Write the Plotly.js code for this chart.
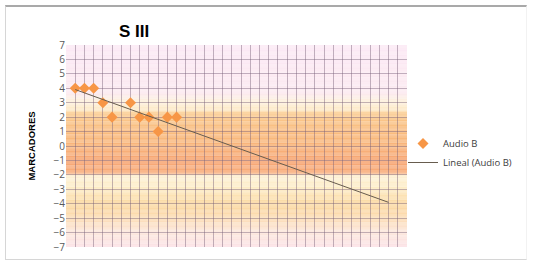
<!DOCTYPE html>
<html>
<head>
<meta charset="utf-8">
<script src="https://cdn.plot.ly/plotly-3.0.1.min.js"></script>
<style>
  html, body { margin: 0; padding: 0; background: #ffffff; }
  #wrap { position: relative; width: 555px; height: 269px; overflow: hidden; }
  #chart { position: absolute; left: 0; top: 0; width: 555px; height: 269px; }
  #frame { position: absolute; left: 5px; top: 5px; width: 520px; height: 252px;
           border-top: 2px solid #a9a9a9; border-left: 1px solid #d6d6d6;
           border-bottom: 1px solid #d6d6d6; border-right: 1px solid #f2f2f2;
           pointer-events: none; }
</style>
</head>
<body>
<div id="wrap">
  <div id="chart"></div>
  <div id="frame"></div>
</div>
<script>
// ---- data ----
const seriesName = "Audio B";
const trendName = "Lineal (Audio B)";
const xValues = [1, 2, 3, 4, 5, 7, 8, 9, 10, 11, 12];
const yValues = [4, 4, 4, 3, 2, 3, 2, 2, 1, 2, 2];
const trendEndX = 35;               // trendline forecast end
const chartTitle = "S III";
const yAxisTitle = "MARCADORES";
const xRange = [0, 37];
const yRange = [-7, 7];

// background gradient stops (decoration)
const bgStopY = [7, 3.7, 3.1, 2.5, 2.2, 1.2, 0, -1, -1.9, -2.05, -2.8, -4, -5, -6, -7];
const bgStopColor = ["#fbe8f4", "#fbe9f0", "#fdf0dc", "#fde9c6", "#fac98c", "#f9bd80",
                     "#f8b47a", "#f7a574", "#f8ae7c", "#fdf1d4", "#fdedc8", "#fbd8a0",
                     "#fcdcb4", "#fce6dc", "#fbe2e6"];

// ---- linear regression (Excel "Lineal" trendline) ----
function linreg(xs, ys) {
  const n = xs.length;
  const mx = xs.reduce((a, b) => a + b, 0) / n;
  const my = ys.reduce((a, b) => a + b, 0) / n;
  let sxy = 0, sxx = 0;
  for (let i = 0; i < n; i++) { sxy += (xs[i] - mx) * (ys[i] - my); sxx += (xs[i] - mx) ** 2; }
  const m = sxy / sxx;
  return { m: m, b: my - m * mx };
}
const fit = linreg(xValues, yValues);
const trendX = [xValues[0], trendEndX];
const trendY = trendX.map(x => fit.m * x + fit.b);

// ---- gradient bands as shapes below the grid ----
function hex2rgb(h) { return [parseInt(h.slice(1,3),16), parseInt(h.slice(3,5),16), parseInt(h.slice(5,7),16)]; }
function colorAt(y) {
  for (let i = 0; i < bgStopY.length - 1; i++) {
    const y0 = bgStopY[i], y1 = bgStopY[i + 1];
    if (y <= y0 && y >= y1) {
      const t = (y0 - y) / (y0 - y1);
      const c0 = hex2rgb(bgStopColor[i]), c1 = hex2rgb(bgStopColor[i + 1]);
      const c = c0.map((v, k) => Math.round(v + (c1[k] - v) * t));
      return "rgb(" + c.join(",") + ")";
    }
  }
  return bgStopColor[bgStopColor.length - 1];
}
const shapes = [];
const step = 0.05;
for (let y = yRange[1]; y > yRange[0] - 1e-9; y -= step) {
  shapes.push({
    type: "rect", xref: "paper", yref: "y", layer: "below",
    x0: 0, x1: 1, y0: y, y1: y - step - 0.01,
    fillcolor: colorAt(y - step / 2), line: { width: 0 }
  });
}

const traces = [
  {
    type: "scatter", mode: "markers", name: seriesName,
    x: xValues, y: yValues,
    marker: { symbol: "diamond", size: 8.5, color: "#f79646", line: { width: 0 } },
    cliponaxis: false
  },
  {
    type: "scatter", mode: "lines", name: trendName,
    x: trendX, y: trendY,
    line: { color: "#675c4e", width: 1 }
  }
];

const gridColor = "rgba(120,95,120,0.45)";
const layout = {
  width: 555, height: 269,
  margin: { l: 66, r: 148, t: 45, b: 22, pad: 0, autoexpand: false },
  paper_bgcolor: "rgba(0,0,0,0)",
  plot_bgcolor: "rgba(0,0,0,0)",
  font: { family: "Open Sans, Liberation Sans, sans-serif", color: "#404040" },
  title: {
    text: chartTitle,
    font: { family: "Liberation Sans, Arial, sans-serif", size: 17, color: "#000000", weight: "bold" },
    xref: "container", yref: "container",
    x: 134 / 555, xanchor: "center",
    y: 1 - 31 / 269, yanchor: "middle"
  },
  xaxis: {
    range: xRange, dtick: 1, tick0: 0,
    showticklabels: false, ticks: "",
    showgrid: true, gridcolor: gridColor, gridwidth: 1,
    zeroline: false, showline: false, fixedrange: true, automargin: false
  },
  yaxis: {
    range: yRange, dtick: 1, tick0: 0,
    showgrid: true, gridcolor: gridColor, gridwidth: 1,
    zeroline: false, showline: false, ticks: "",
    tickfont: { size: 10, color: "#595959" },
    title: {
      text: yAxisTitle, standoff: 16,
      font: { family: "Liberation Sans, Arial, sans-serif", size: 9.5, color: "#000000", weight: "bold" }
    },
    fixedrange: true, automargin: false
  },
  shapes: shapes,
  showlegend: true,
  legend: {
    xref: "container", yref: "container",
    x: 403 / 555, xanchor: "left",
    y: 1 - 129 / 269, yanchor: "top",
    bgcolor: "rgba(0,0,0,0)", borderwidth: 0,
    font: { size: 9.5, color: "#404040" },
    itemwidth: 30
  }
};

Plotly.newPlot("chart", traces, layout, { displayModeBar: false, staticPlot: true });
</script>
</body>
</html>
